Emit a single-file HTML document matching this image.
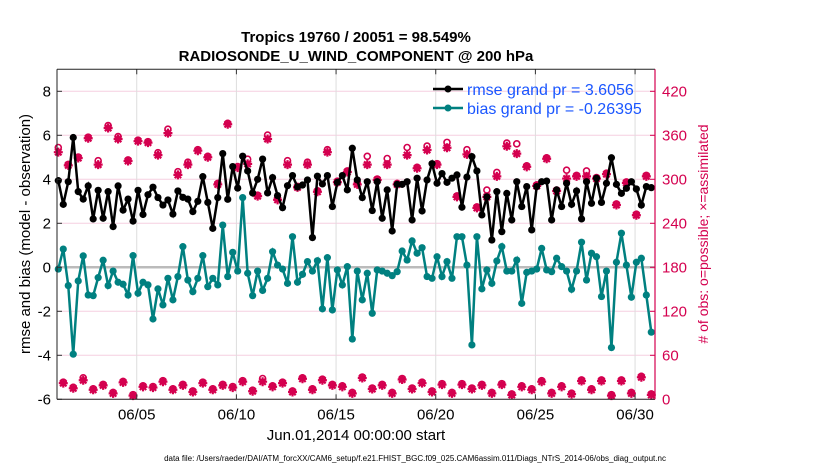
<!DOCTYPE html>
<html><head><meta charset="utf-8"><style>
body{margin:0;background:#fff;}
svg text{font-family:"Liberation Sans",Arial,sans-serif;}
</style></head><body>
<svg id="chart" width="830" height="470" xmlns="http://www.w3.org/2000/svg">
<g id="grid"></g>
<g id="marks"></g>
<g id="axes"></g>
<text x="356" y="42" text-anchor="middle" font-size="15" font-weight="bold">Tropics 19760 / 20051 = 98.549%</text>
<text x="356" y="61" text-anchor="middle" font-size="15" font-weight="bold">RADIOSONDE_U_WIND_COMPONENT @ 200 hPa</text>
<text transform="translate(30,234) rotate(-90)" text-anchor="middle" font-size="15">rmse and bias (model - observation)</text>
<text transform="translate(708,234) rotate(-90)" text-anchor="middle" font-size="14" fill="#d4004f"># of obs: o=possible; ×=assimilated</text>
<text x="356" y="440" text-anchor="middle" font-size="15">Jun.01,2014 00:00:00 start</text>
<text x="415" y="461" text-anchor="middle" font-size="8">data file: /Users/raeder/DAI/ATM_forcXX/CAM6_setup/f.e21.FHIST_BGC.f09_025.CAM6assim.011/Diags_NTrS_2014-06/obs_diag_output.nc</text>
<g>
<line x1="433" y1="89" x2="463" y2="89" stroke="#000" stroke-width="2.5"/>
<circle cx="448" cy="89" r="3.5" fill="#000"/>
<text x="467" y="95" font-size="16" fill="#1a56ff">rmse grand pr = 3.6056</text>
<line x1="433" y1="108" x2="463" y2="108" stroke="#008080" stroke-width="2.5"/>
<circle cx="448" cy="108" r="3.5" fill="#008080"/>
<text x="467" y="114" font-size="16" fill="#1a56ff">bias grand pr = -0.26395</text>
</g>
</svg>
<script>
const rmse=[3.94,2.86,3.89,5.9,3.44,3.1,3.7,2.2,3.5,2.23,3.44,1.85,3.7,2.6,3.1,2.1,3.5,2.4,3.3,3.64,3.17,2.83,3.06,2.42,3.47,3.18,3.1,2.53,3.0,4.12,2.95,
1.77,3.17,5.17,3.09,4.58,3.6,5.05,4.38,3.38,4.0,4.92,3.38,4.08,3.26,2.71,3.71,4.17,3.65,3.74,3.97,1.35,4.14,3.79,4.17,2.76,3.86,4.17,3.52,5.41,3.97,
3.17,3.89,2.58,3.89,2.23,3.52,1.65,3.77,3.77,3.89,2.15,4.05,2.56,3.97,4.71,3.82,4.26,3.86,4.05,4.2,2.73,4.1,5.03,4.38,2.38,3.2,1.24,3.44,1.62,3.36,
2.15,3.89,2.76,3.67,1.7,3.67,3.89,3.92,2.15,3.52,2.76,3.82,2.86,3.47,2.2,3.89,2.91,4.05,2.95,3.82,4.98,3.77,3.36,3.59,3.89,3.56,2.83,3.67,3.62];
const bias=[-0.08,0.83,-0.83,-3.95,-0.62,0.52,-1.26,-1.29,-0.47,0.32,-0.83,-0.17,-0.68,-0.77,-1.26,0.53,-1.18,-0.68,-0.8,-2.35,-0.98,-1.71,-0.5,-1.48,-0.42,0.94,-0.58,-1.11,-0.5,0.53,-0.88,
-0.5,-0.8,1.92,-0.42,0.68,-0.17,3.17,-0.27,-1.29,-0.17,-1.05,-0.5,0.71,0.1,-0.08,-0.73,1.39,-0.68,-0.32,0.26,-0.17,0.3,-1.89,0.44,-1.94,-0.12,-0.8,0.03,-3.26,-0.17,
-1.48,-0.27,-2.09,-0.12,-0.17,-0.27,-0.38,-0.2,0.74,0.33,1.2,0.64,0.89,-0.42,-0.5,0.48,-0.42,0.26,-0.5,1.39,1.39,0.1,-3.53,1.39,-0.98,-0.12,-0.73,0.29,0.94,-0.17,
-0.17,0.33,-1.64,-0.23,-0.17,-0.08,0.86,-0.12,-0.2,0.41,0.03,-0.17,-1.0,-0.17,1.14,-0.58,0.64,0.48,-1.33,-0.17,-3.65,0.23,1.55,0.1,-1.36,0.23,0.41,-1.26,-2.95];
const nUsed=[337,22,319,15,329,26,356,13,320,19,370,8,355,23,325,5,352,17,350,16,333,24,363,13,306,19,320,10,339,22,330,
13,293,19,375,16,316,24,321,11,277,24,355,17,272,22,320,10,289,28,320,13,283,26,337,19,296,17,310,8,293,
29,320,14,299,19,320,8,293,27,333,14,315,22,340,10,320,20,343,8,276,20,334,14,261,19,276,8,304,20,345,
6,335,17,317,13,291,24,328,8,284,17,301,7,304,25,304,13,301,25,307,5,265,25,295,8,251,30,304,6];
const nPoss=[342,22,319,15,329,28,356,13,324,19,372,8,357,23,325,5,352,17,350,16,335,24,367,13,309,19,322,10,339,22,330,
13,293,19,375,16,316,24,326,11,277,27,359,17,272,22,324,10,289,28,322,13,283,26,339,19,296,17,310,8,293,
29,330,14,299,19,327,8,293,27,342,14,315,22,344,10,320,20,349,8,276,20,339,14,261,19,284,8,308,20,348,
6,347,17,317,13,291,24,328,8,284,17,311,7,304,25,310,13,301,25,307,5,265,25,295,8,251,30,304,6];
const yTicks=[-6,-4,-2,0,2,4,6,8];
const y2Ticks=[0,60,120,180,240,300,360,420];
const xTickDays=[4,9,14,19,24,29];
const xTickLabels=["06/05","06/10","06/15","06/20","06/25","06/30"];

const NS="http://www.w3.org/2000/svg";
const L=57,R=655,T=69.3,B=399.3;
const xs=d=>L+d*(R-L)/30;
const ys=v=>B-(v+6)*(B-T)/15;
const y2s=n=>B-n*(B-T)/450;
const tOf=i=>i*0.25+0.065;
function mk(tag,attrs,parent){const e=document.createElementNS(NS,tag);for(const k in attrs)e.setAttribute(k,attrs[k]);parent.appendChild(e);return e;}
const grid=document.getElementById('grid'),marks=document.getElementById('marks'),axes=document.getElementById('axes');
const C="#d4004f";
yTicks.forEach(v=>{
  const g=mk('line',{x1:L,x2:R,y1:ys(v),y2:ys(v),stroke:v===0?"#bbb":"#f6cfe0","stroke-width":v===0?2.5:1},grid);
  
  
  const t=mk('text',{x:L-6,y:ys(v)+5,"text-anchor":"end","font-size":15},axes);t.textContent=v;
  
  
  mk('line',{x1:L,x2:L+5,y1:ys(v),y2:ys(v),stroke:"#333"},axes);
});
y2Ticks.forEach(n=>{
  const t=mk('text',{x:R+7,y:y2s(n)+5,"font-size":15,fill:C},axes);t.textContent=n;
  
  
  mk('line',{x1:R-5,x2:R,y1:y2s(n),y2:y2s(n),stroke:C},axes);
});
xTickDays.forEach((d,k)=>{
  const g=mk('line',{x1:xs(d),x2:xs(d),y1:T,y2:B,stroke:"#ddd"},grid);
  
  
  mk('line',{x1:xs(d),x2:xs(d),y1:T,y2:T+5,stroke:"#333"},axes);
  mk('line',{x1:xs(d),x2:xs(d),y1:B,y2:B-5,stroke:"#333"},axes);
  const t=mk('text',{x:xs(d),y:B+20,"text-anchor":"middle","font-size":15},axes);t.textContent=xTickLabels[k];
  
  
});
mk('line',{x1:L,x2:R,y1:T,y2:T,stroke:"#222"},axes);
mk('line',{x1:L,x2:R,y1:B,y2:B,stroke:"#222"},axes);
mk('line',{x1:L,x2:L,y1:T,y2:B,stroke:"#222"},axes);
mk('line',{x1:R,x2:R,y1:T,y2:B,stroke:C,"stroke-width":1.2},axes);
nPoss.forEach((n,i)=>{
  const c=mk('circle',{cx:xs(tOf(i)),cy:y2s(n)-1,r:3,fill:"none",stroke:C,"stroke-width":1.6},marks);
  
  
});
nUsed.forEach((n,i)=>{
  const x=xs(tOf(i)),y=y2s(n);
  const p=mk('path',{d:`M${x-4.5},${y}H${x+4.5}M${x},${y-4.5}V${y+4.5}M${x-3.2},${y-3.2}L${x+3.2},${y+3.2}M${x-3.2},${y+3.2}L${x+3.2},${y-3.2}`,stroke:C,"stroke-width":2.2},marks);
  
  
  mk('circle',{cx:x,cy:y,r:2.6,fill:C},marks);
});
function series(arr,color,name){
  const pts=arr.map((v,i)=>xs(tOf(i))+","+ys(v)).join(" ");
  const pl=mk('polyline',{points:pts,fill:"none",stroke:color,"stroke-width":2.5},marks);
  
  
  arr.forEach((v,i)=>{
    const c=mk('circle',{cx:xs(tOf(i)),cy:ys(v),r:3.6,fill:color},marks);
    
    
  });
}
series(bias,"#008080","bias");
series(rmse,"#000000","rmse");
</script>
</body></html>
